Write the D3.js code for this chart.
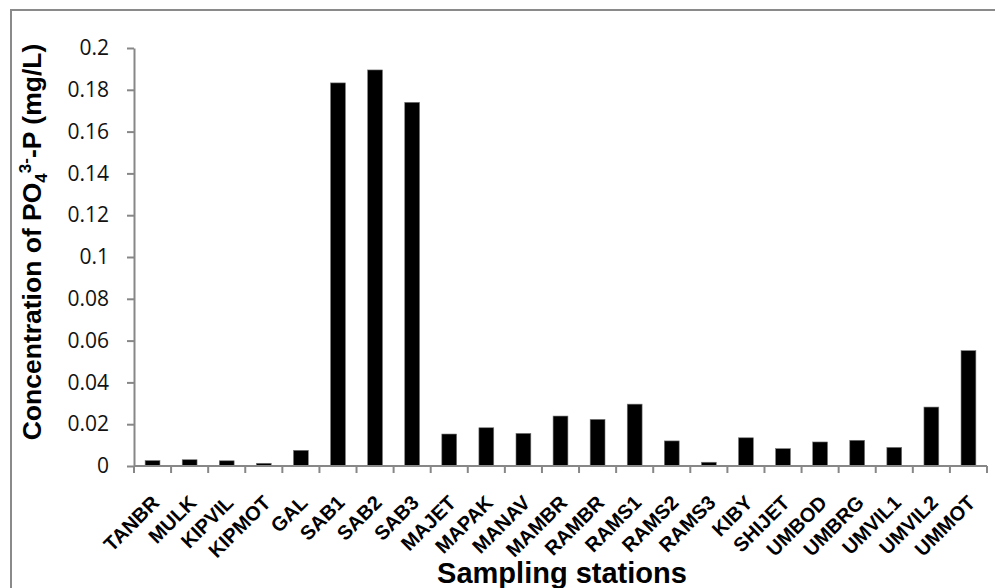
<!DOCTYPE html>
<html>
<head>
<meta charset="utf-8">
<script src="https://cdn.jsdelivr.net/npm/d3@7"></script>
<style>
  html, body { margin: 0; padding: 0; background: #fff; }
  svg { display: block; }
</style>
</head>
<body>
<svg id="chart" width="995" height="588"></svg>
<script>
const stations = ["TANBR","MULK","KIPVIL","KIPMOT","GAL","SAB1","SAB2","SAB3","MAJET","MAPAK","MANAV","MAMBR","RAMBR","RAMS1","RAMS2","RAMS3","KIBY","SHIJET","UMBOD","UMBRG","UMVIL1","UMVIL2","UMMOT"];
const po4 = [0.0026,0.003,0.0025,0.0013,0.0075,0.1833,0.1895,0.1740,0.0153,0.0183,0.0156,0.0239,0.0223,0.0296,0.0120,0.0018,0.0135,0.0083,0.0115,0.0123,0.0089,0.0282,0.0552];
const yTicks = [0,0.02,0.04,0.06,0.08,0.1,0.12,0.14,0.16,0.18,0.2];

const svg = d3.select("#chart");
const W = 995, H = 588;
const margin = {left: 134, right: 8, top: 48, bottom: 122};
const axisColor = "#878787";

// chart border
svg.append("rect")
  .attr("x", 11).attr("y", 10)
  .attr("width", W + 20).attr("height", H + 20)
  .attr("fill", "none").attr("stroke", "#8a8a8a").attr("stroke-width", 2);

const x = d3.scaleBand()
  .domain(stations)
  .range([margin.left, W - margin.right])
  .paddingInner(0.6)
  .paddingOuter(0.3);

const y = d3.scaleLinear()
  .domain([0, 0.2])
  .range([H - margin.bottom, margin.top]);

// bars
svg.append("g").selectAll("rect")
  .data(stations)
  .join("rect")
  .attr("x", d => x(d))
  .attr("width", x.bandwidth())
  .attr("y", (d, i) => y(po4[i]))
  .attr("height", (d, i) => y(0) - y(po4[i]))
  .attr("fill", "#000")
  .attr("stroke", "#777")
  .attr("stroke-width", 0.6);

// y axis
const yAxis = svg.append("g")
  .attr("transform", `translate(${margin.left},0)`)
  .call(d3.axisLeft(y).tickValues(yTicks).tickSize(7).tickSizeOuter(0).tickPadding(18)
    .tickFormat(d => d3.format("")(+d.toFixed(2))));
yAxis.select(".domain").attr("stroke", axisColor).attr("stroke-width", 2);
yAxis.selectAll(".tick line").attr("stroke", axisColor).attr("stroke-width", 2);
yAxis.selectAll(".tick text")
  .attr("font-family", "'Open Sans', sans-serif")
  .attr("font-size", 21)
  .attr("fill", "#111");

// x axis
const step = x.step();
const xAxisG = svg.append("g")
  .attr("transform", `translate(0,${y(0)})`);
xAxisG.append("line")
  .attr("x1", margin.left).attr("x2", W - margin.right)
  .attr("y1", 0).attr("y2", 0)
  .attr("stroke", axisColor).attr("stroke-width", 2);
const boundaries = d3.range(stations.length + 1).map(i => margin.left + i * step);
xAxisG.selectAll("line.tk")
  .data(boundaries)
  .join("line")
  .attr("class", "tk")
  .attr("x1", d => d).attr("x2", d => d)
  .attr("y1", 0).attr("y2", 7)
  .attr("stroke", axisColor).attr("stroke-width", 2);

xAxisG.selectAll("text.lbl")
  .data(stations)
  .join("text")
  .attr("class", "lbl")
  .attr("text-anchor", "end")
  .attr("font-family", "'Liberation Sans', Arial, sans-serif")
  .attr("font-weight", "bold")
  .attr("font-size", 20)
  .attr("fill", "#000")
  .attr("transform", d => `translate(${x(d) + x.bandwidth() / 2 + 8},${38}) rotate(-45)`)
  .text(d => d);

// axis titles
const yt = svg.append("text")
  .attr("font-family", "'Liberation Sans', Arial, sans-serif")
  .attr("font-weight", "bold")
  .attr("font-size", 26.5)
  .attr("fill", "#000")
  .attr("text-anchor", "middle")
  .attr("transform", `translate(41,242) rotate(-90)`);
yt.append("tspan").text("Concentration of PO");
yt.append("tspan").attr("font-size", 17).attr("dy", 6).text("4");
yt.append("tspan").attr("font-size", 17).attr("dy", -16).text("3-");
yt.append("tspan").attr("dy", 10).text("-P (mg/L)");

svg.append("text")
  .attr("font-family", "'Liberation Sans', Arial, sans-serif")
  .attr("font-weight", "bold")
  .attr("font-size", 29)
  .attr("fill", "#000")
  .attr("text-anchor", "middle")
  .attr("x", 562).attr("y", 583)
  .text("Sampling stations");
</script>
</body>
</html>
